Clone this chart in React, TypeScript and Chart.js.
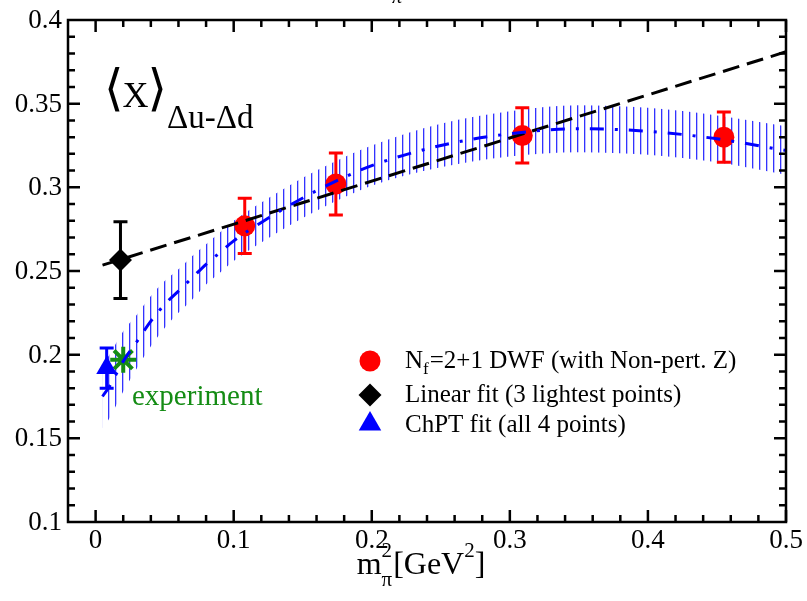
import React, { useEffect, useRef } from 'react';
import { Chart, registerables } from 'chart.js';

Chart.register(...registerables);

const SERIF = "'Liberation Serif', 'Times New Roman', serif";
Chart.defaults.font.family = SERIF;
Chart.defaults.color = '#000';

// ---- axes ----
const xMin = -0.02;
const xMax = 0.5;
const yMin = 0.1;
const yMax = 0.4;
const xMajorTicks = [0, 0.1, 0.2, 0.3, 0.4, 0.5];
const yMajorTicks = [0.1, 0.15, 0.2, 0.25, 0.3, 0.35, 0.4];
const xMinorStep = 0.02;
const yMinorStep = 0.01;

// ---- lattice points: Nf=2+1 DWF ----
const dwfX = [0.108, 0.174, 0.309, 0.455];
const dwfY = [0.277, 0.302, 0.331, 0.33];
const dwfErr = [0.0165, 0.0185, 0.0165, 0.015];

// ---- linear fit extrapolation ----
const linearX = [0.018];
const linearY = [0.2565];
const linearErr = [0.023];
const linearLineX = [0.005, 0.5];
const linearLineY = [0.2535, 0.381];

// ---- ChPT fit extrapolation ----
const chptX = [0.008];
const chptY = [0.192];
const chptErr = [0.012];

// ---- experiment ----
const expX = [0.02];
const expY = [0.197];

// ---- ChPT fit curve and error band ----
const fitX = [0.005, 0.01, 0.02, 0.03, 0.04, 0.05, 0.06, 0.07, 0.08, 0.09, 0.1, 0.12, 0.14, 0.16, 0.18, 0.2, 0.25, 0.3, 0.35, 0.4, 0.45, 0.5];
const fitY = [0.175, 0.181, 0.196, 0.208, 0.22, 0.23, 0.238, 0.246, 0.254, 0.261, 0.268, 0.279, 0.289, 0.298, 0.306, 0.313, 0.325, 0.332, 0.335, 0.3335, 0.329, 0.322];
const fitUpper = [0.194, 0.2, 0.214, 0.224, 0.235, 0.244, 0.251, 0.259, 0.266, 0.273, 0.28, 0.291, 0.301, 0.31, 0.318, 0.325, 0.338, 0.3455, 0.349, 0.3475, 0.343, 0.3365];
const fitLower = [0.156, 0.162, 0.178, 0.192, 0.205, 0.216, 0.225, 0.233, 0.242, 0.249, 0.256, 0.267, 0.277, 0.286, 0.294, 0.301, 0.312, 0.3185, 0.321, 0.3195, 0.315, 0.3075];

// ---- legend / annotation texts ----
const legendRest = ['=2+1 DWF (with Non-pert. Z)', 'Linear fit (3 lightest points)', 'ChPT fit (all 4 points)'];
const expLabel = 'experiment';

const pts = (xs: number[], ys: number[]) => xs.map((x, i) => ({ x, y: ys[i] }));
const fmt = (v: number) => String(+Number(v).toFixed(2));

const errorBarPlugin = {
  id: 'errorBars',
  afterDatasetDraw(chart: any, args: any) {
    const ds: any = chart.data.datasets[args.index];
    if (!ds.errors) return;
    const ctx = chart.ctx;
    const ys = chart.scales.y;
    ctx.save();
    ctx.strokeStyle = ds.errorColor;
    ctx.lineWidth = 3;
    args.meta.data.forEach((pt: any, i: number) => {
      const d = ds.data[i];
      const e = ds.errors[i];
      const x = pt.x;
      const t = ys.getPixelForValue(d.y + e);
      const b = ys.getPixelForValue(d.y - e);
      ctx.beginPath();
      ctx.moveTo(x, t);
      ctx.lineTo(x, b);
      ctx.moveTo(x - 7, t);
      ctx.lineTo(x + 7, t);
      ctx.moveTo(x - 7, b);
      ctx.lineTo(x + 7, b);
      ctx.stroke();
    });
    ctx.restore();
  },
};

const framePlugin = {
  id: 'frame',
  afterDraw(chart: any) {
    const ctx = chart.ctx;
    const { left, right, top, bottom } = chart.chartArea;
    const xs = chart.scales.x;
    const ys = chart.scales.y;
    ctx.save();
    ctx.strokeStyle = '#000';
    ctx.lineWidth = 2.5;
    ctx.strokeRect(left, top, right - left, bottom - top);
    ctx.beginPath();
    for (let k = 0; ; k++) {
      const v = k * xMinorStep;
      if (v > xMax + 1e-9) break;
      const major = xMajorTicks.some((m) => Math.abs(m - v) < 1e-9);
      const len = major ? 12 : 7;
      const px = xs.getPixelForValue(v);
      ctx.moveTo(px, bottom);
      ctx.lineTo(px, bottom - len);
      ctx.moveTo(px, top);
      ctx.lineTo(px, top + len);
    }
    for (let k = 1; ; k++) {
      const v = yMin + k * yMinorStep;
      if (v > yMax - 1e-9) break;
      const major = yMajorTicks.some((m) => Math.abs(m - v) < 1e-9);
      const len = major ? 12 : 7;
      const py = ys.getPixelForValue(v);
      ctx.moveTo(left, py);
      ctx.lineTo(left + len, py);
      ctx.moveTo(right, py);
      ctx.lineTo(right - len, py);
    }
    ctx.stroke();

    // tick labels
    ctx.fillStyle = '#000';
    ctx.font = `27px ${SERIF}`;
    ctx.textAlign = 'right';
    ctx.textBaseline = 'middle';
    yMajorTicks.forEach((v) => {
      ctx.fillText(fmt(v), left - 6, ys.getPixelForValue(v) + 1);
    });
    ctx.textAlign = 'center';
    ctx.textBaseline = 'alphabetic';
    xMajorTicks.forEach((v) => {
      ctx.fillText(fmt(v), xs.getPixelForValue(v), bottom + 26);
    });
    ctx.restore();
  },
};

const textPlugin = {
  id: 'texts',
  afterDraw(chart: any) {
    const ctx = chart.ctx;
    ctx.save();
    ctx.textBaseline = 'alphabetic';
    ctx.textAlign = 'left';
    ctx.fillStyle = '#000';

    // cut-off title fragment at top
    ctx.font = `italic 20px ${SERIF}`;
    ctx.fillText('π', 392, 3);

    // inset label <x>_{Δu-Δd}
    const brFont = `50px 'DejaVu Serif', 'DejaVu Sans', ${SERIF}`;
    let x = 104;
    ctx.font = brFont;
    ctx.fillText('⟨', x, 105);
    x += ctx.measureText('⟨').width - 1;
    ctx.font = `36px ${SERIF}`;
    ctx.fillText('X', x, 107);
    x += ctx.measureText('X').width - 1;
    ctx.font = brFont;
    ctx.fillText('⟩', x, 105);
    ctx.font = `33px ${SERIF}`;
    ctx.fillText('Δu-Δd', 167, 128);

    // experiment label
    ctx.fillStyle = 'rgb(20,140,20)';
    ctx.font = `29px ${SERIF}`;
    ctx.fillText(expLabel, 132, 405);

    // legend
    const mx = 370;
    const rows = [361, 395, 424];
    const base = [368, 402, 432];
    ctx.fillStyle = '#ff0000';
    ctx.beginPath();
    ctx.arc(mx, rows[0], 10.5, 0, Math.PI * 2);
    ctx.fill();
    ctx.fillStyle = '#000';
    ctx.beginPath();
    ctx.moveTo(mx - 11.5, rows[1]);
    ctx.lineTo(mx, rows[1] - 11.5);
    ctx.lineTo(mx + 11.5, rows[1]);
    ctx.lineTo(mx, rows[1] + 11.5);
    ctx.closePath();
    ctx.fill();
    ctx.fillStyle = '#0000ff';
    const r = 13;
    ctx.beginPath();
    ctx.moveTo(mx, rows[2] - r);
    ctx.lineTo(mx + r * 0.866, rows[2] + r / 2);
    ctx.lineTo(mx - r * 0.866, rows[2] + r / 2);
    ctx.closePath();
    ctx.fill();

    ctx.fillStyle = '#000';
    const tx = 405;
    ctx.font = `25px ${SERIF}`;
    ctx.fillText('N', tx, base[0]);
    let nx = tx + ctx.measureText('N').width;
    ctx.font = `17px ${SERIF}`;
    ctx.fillText('f', nx, base[0] + 6);
    nx += ctx.measureText('f').width + 1;
    ctx.font = `25px ${SERIF}`;
    ctx.fillText(legendRest[0], nx, base[0]);
    ctx.fillText(legendRest[1], tx, base[1]);
    ctx.fillText(legendRest[2], tx, base[2]);

    // x-axis title: m_pi^2 [GeV^2]
    const big = `32px ${SERIF}`;
    const small = `21px ${SERIF}`;
    ctx.font = big;
    const wm = ctx.measureText('m').width;
    const wg = ctx.measureText('[GeV').width;
    const wb = ctx.measureText(']').width;
    ctx.font = small;
    const w2 = ctx.measureText('2').width;
    const wpi = ctx.measureText('π').width;
    const total = wm + Math.max(w2, wpi) + 1 + wg + w2 + wb;
    const cx = (chart.chartArea.left + chart.chartArea.right) / 2 - 6;
    let ax = cx - total / 2;
    const bl = 574;
    ctx.font = big;
    ctx.fillText('m', ax, bl);
    ax += wm;
    ctx.font = small;
    ctx.fillText('2', ax, bl - 17);
    ctx.fillText('π', ax, bl + 12);
    ax += Math.max(w2, wpi) + 1;
    ctx.font = big;
    ctx.fillText('[GeV', ax, bl);
    ax += wg;
    ctx.font = small;
    ctx.fillText('2', ax, bl - 17);
    ax += w2;
    ctx.font = big;
    ctx.fillText(']', ax, bl);

    ctx.restore();
  },
};

export default function App() {
  const ref = useRef<HTMLCanvasElement>(null);
  useEffect(() => {
    document.body.style.margin = '0';
    const canvas = ref.current!;
    const pc = document.createElement('canvas');
    pc.width = 7;
    pc.height = 4;
    const pctx = pc.getContext('2d')!;
    pctx.fillStyle = 'rgba(0,0,255,0.8)';
    pctx.fillRect(3, 0, 1, 4);
    pctx.fillStyle = 'rgba(0,0,255,0.25)';
    pctx.fillRect(4, 0, 1, 4);
    const pattern = canvas.getContext('2d')!.createPattern(pc, 'repeat')!;

    const clear = 'rgba(0,0,0,0)';
    const chart = new Chart(canvas, {
      type: 'scatter',
      data: {
        datasets: [
          {
            data: pts(fitX, fitUpper),
            showLine: true,
            borderColor: clear,
            borderWidth: 1,
            pointRadius: 0,
            fill: '+1',
            backgroundColor: pattern as any,
            cubicInterpolationMode: 'monotone',
            order: 10,
          } as any,
          {
            data: pts(fitX, fitLower),
            showLine: true,
            borderColor: clear,
            borderWidth: 1,
            pointRadius: 0,
            fill: false,
            cubicInterpolationMode: 'monotone',
            order: 11,
          } as any,
          {
            data: pts(dwfX, dwfY),
            pointStyle: 'circle',
            pointRadius: 10.5,
            backgroundColor: '#ff0000',
            borderColor: '#ff0000',
            borderWidth: 0,
            errors: dwfErr,
            errorColor: '#ff0000',
            order: 5,
          } as any,
          {
            data: pts(linearX, linearY),
            pointStyle: 'rectRot',
            pointRadius: 11.5,
            backgroundColor: '#000',
            borderColor: '#000',
            borderWidth: 0,
            errors: linearErr,
            errorColor: '#000',
            order: 5,
          } as any,
          {
            data: pts(expX, expY),
            pointStyle: 'star',
            pointRadius: 13,
            backgroundColor: 'rgb(20,140,20)',
            borderColor: 'rgb(20,140,20)',
            borderWidth: 4,
            order: 6,
          } as any,
          {
            data: pts(chptX, chptY),
            pointStyle: 'triangle',
            pointRadius: 12,
            backgroundColor: '#0000ff',
            borderColor: '#0000ff',
            borderWidth: 0,
            errors: chptErr,
            errorColor: '#0000ff',
            order: 4,
          } as any,
          {
            data: pts(linearLineX, linearLineY),
            showLine: true,
            borderColor: '#000',
            borderWidth: 3,
            borderDash: [17, 8],
            pointRadius: 0,
            fill: false,
            order: 1,
          } as any,
          {
            data: pts(fitX, fitY),
            showLine: true,
            borderColor: '#0000ff',
            borderWidth: 3,
            borderDash: [14, 11, 3, 11],
            pointRadius: 0,
            fill: false,
            cubicInterpolationMode: 'monotone',
            order: 0,
          } as any,
        ],
      },
      options: {
        responsive: false,
        animation: false,
        devicePixelRatio: 1,
        events: [],
        layout: { padding: { top: 20, right: 21, left: 0, bottom: 0 } },
        plugins: { legend: { display: false }, tooltip: { enabled: false }, title: { display: false } },
        scales: {
          x: {
            type: 'linear',
            min: xMin,
            max: xMax,
            grid: { display: false, drawTicks: false },
            border: { display: false },
            afterBuildTicks: (s: any) => {
              s.ticks = xMajorTicks.map((v) => ({ value: v }));
            },
            afterFit: (s: any) => {
              s.height = 79;
            },
            ticks: { display: false },
          },
          y: {
            type: 'linear',
            min: yMin,
            max: yMax,
            grid: { display: false, drawTicks: false },
            border: { display: false },
            afterBuildTicks: (s: any) => {
              s.ticks = yMajorTicks.map((v) => ({ value: v }));
            },
            afterFit: (s: any) => {
              s.width = 68;
            },
            ticks: { display: false },
          },
        },
      } as any,
      plugins: [errorBarPlugin, framePlugin, textPlugin],
    });
    return () => chart.destroy();
  }, []);
  return (
    <div style={{ width: 807, height: 601 }}>
      <canvas ref={ref} width={807} height={601} style={{ display: 'block' }} />
    </div>
  );
}
